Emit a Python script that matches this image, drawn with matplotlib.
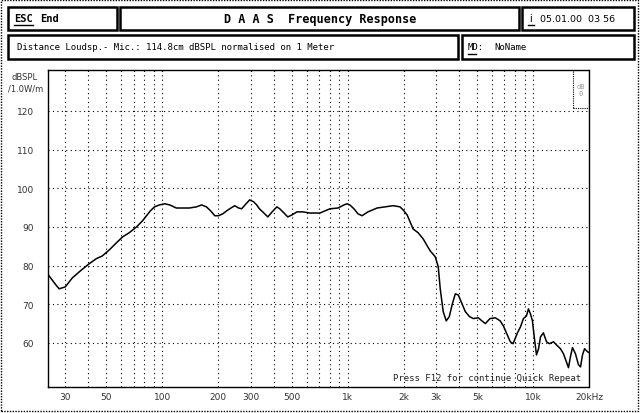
import matplotlib.pyplot as plt
from matplotlib.patches import Rectangle
from matplotlib.lines import Line2D

freq_hz = [24.3, 25.2, 26.7, 27.8, 30, 32.7, 36.3, 40.4, 44.1, 47.5, 51.9, 56.6,
           61, 66.3, 72.6, 78.3, 82.2, 86.4, 90.8, 96.6, 103, 109.7, 119, 131,
           140, 153, 163, 173, 182, 192, 201, 212, 223, 231, 246, 258, 268, 283,
           296, 311, 323, 334, 348, 371, 391, 415, 430, 447, 475, 500, 532, 573,
           625, 708, 802, 886, 955, 991, 1027, 1080, 1136, 1194, 1285, 1440,
           1590, 1757, 1914, 1991, 2091, 2170, 2250, 2397, 2553, 2683, 2786,
           2964, 3077, 3154, 3273, 3398, 3529, 3665, 3803, 3946, 4095, 4305,
           4540, 4760, 5061, 5293, 5523, 5850, 6255, 6640, 6909, 7170, 7530,
           7790, 8226, 8550, 8860, 9200, 9430, 9670, 9909, 10160, 10420, 10690,
           10960, 11356, 11800, 12250, 12865, 13350, 14031, 14562, 15110, 15500,
           15880, 16290, 16900, 17540, 18000, 18450, 18930, 19650, 20000]
spl_db = [77.6, 76.6, 75.0, 74.0, 74.5, 76.8, 78.7, 80.5, 81.8, 82.5, 84.1, 85.9,
          87.4, 88.5, 90.0, 91.6, 92.9, 94.2, 95.2, 95.7, 96.0, 95.7, 94.9, 94.9,
          94.9, 95.2, 95.7, 95.2, 94.2, 92.9, 92.9, 93.4, 94.2, 94.7, 95.5, 94.9,
          94.7, 96.0, 97.0, 96.5, 95.7, 94.7, 93.9, 92.6, 93.9, 95.2, 94.7, 93.9,
          92.6, 93.1, 93.9, 93.9, 93.6, 93.6, 94.7, 94.9, 95.7, 96.0, 95.7, 94.7,
          93.4, 92.9, 93.9, 94.9, 95.2, 95.5, 95.2, 94.4, 93.1, 91.3, 89.5, 88.5,
          86.9, 85.1, 83.8, 82.3, 79.7, 74.0, 68.1, 65.7, 66.8, 70.1, 72.7, 72.4,
          70.6, 68.1, 66.8, 66.3, 66.5, 65.7, 65.0, 66.3, 66.5, 65.7, 64.4, 62.6,
          60.3, 59.8, 62.6, 64.2, 66.3, 67.0, 68.8, 67.5, 65.7, 61.1, 56.9, 58.5,
          61.6, 62.6, 60.3, 59.8, 60.3, 59.5, 58.5, 57.2, 55.1, 53.6, 56.4, 58.8,
          57.2, 54.4, 53.8, 56.9, 58.5, 57.7, 57.5]

x_grid = [30, 40, 50, 60, 70, 80, 90, 100, 200, 300, 400, 500, 600, 700, 800,
          900, 1000, 2000, 3000, 4000, 5000, 6000, 7000, 8000, 9000, 10000, 20000]
x_ticks = [30, 50, 100, 200, 300, 500, 1000, 2000, 3000, 5000, 10000, 20000]
x_labels = ['30', '50', '100', '200', '300', '500', '1k', '2k', '3k', '5k', '10k', '20kHz']
y_ticks = [60, 70, 80, 90, 100, 110, 120]

W, H = 640, 414
fig = plt.figure(figsize=(6.4, 4.14), dpi=100)
fig.patch.set_facecolor('white')


def px_box(x0, y0, x1, y1, **kw):
    fig.add_artist(Rectangle((x0 / W, 1 - y1 / H), (x1 - x0) / W, (y1 - y0) / H,
                             transform=fig.transFigure, fill=False, **kw))


def px_text(x, y, s, **kw):
    fig.text(x / W, 1 - y / H, s, va='center', **kw)


def px_line(x0, x1, y, **kw):
    fig.add_artist(Line2D([x0 / W, x1 / W], [1 - y / H, 1 - y / H],
                          transform=fig.transFigure, **kw))


# outer frame of the screen
px_box(1, 1, 638, 412, ec='black', lw=1.0, ls=(0, (1, 1)))

# header boxes
for b in [(8, 8, 117, 31), (120, 8, 519, 31), (522, 8, 634, 31),
          (8, 36, 458, 60), (462, 36, 634, 60)]:
    px_box(*b, ec='black', lw=1.8)

mono = 'DejaVu Sans Mono'
px_text(14, 19, 'ESC', family=mono, weight='bold', size=7.5)
px_line(14, 33, 26, color='black', lw=1)
px_text(40, 19, 'End', family=mono, weight='bold', size=7.5)
px_text(320, 20, 'D A A S  Frequency Response', family=mono, weight='bold',
        size=8.5, ha='center')
px_text(529, 19, 'i', family='DejaVu Sans', size=7)
px_line(528, 534, 26, color='black', lw=1)
px_text(540, 19, '05.01.00  03 56', family='DejaVu Sans', size=6.8)
px_text(17, 48, 'Distance Loudsp.- Mic.: 114.8cm dBSPL normalised on 1 Meter',
        family=mono, size=6.5)
px_text(468, 48, 'MD:', family=mono, size=6.5)
px_line(468, 476, 55, color='black', lw=1)
px_text(494, 48, 'NoName', family=mono, size=6.5)

# axis unit label
px_text(12, 78, 'dBSPL', family='DejaVu Sans', size=6, color='#333333')
px_text(8, 89, '/1.0W/m', family='DejaVu Sans', size=6, color='#333333')

# plot area
ax = fig.add_axes([48 / W, 1 - 388 / H, (589 - 48) / W, (388 - 71) / H])
ax.plot(freq_hz, spl_db, color='black', lw=1.1)
ax.set_xscale('log')
ax.set_xlim(24.2, 20000)
ax.set_ylim(48.6, 130.6)

ax.set_xticks(x_grid, minor=False)
ax.set_xticklabels(['' for _ in x_grid])
ax.set_xticks([], minor=True)
ax.set_yticks(y_ticks)
ax.set_yticklabels([str(v) for v in y_ticks])
ax.grid(True, which='major', color='black', ls=(0, (1, 3)), lw=0.8)
ax.tick_params(length=0, labelsize=6.5, labelcolor='#333333', pad=10)
for lbl in ax.get_yticklabels():
    lbl.set_family('DejaVu Sans')

for f, s in zip(x_ticks, x_labels):
    ax.text(f, -0.03, s, transform=ax.get_xaxis_transform(), ha='center',
            va='center', size=6.5, color='#333333')

for sp in ax.spines.values():
    sp.set_linestyle((0, (1, 1)))
    sp.set_linewidth(1.0)

# status line inside the plot
ax.text(0.985, 0.015, 'Press F12 for continue Quick Repeat', transform=ax.transAxes,
        ha='right', va='bottom', family=mono, size=6.5, color='#222222')

# small level indicator box top right
ax.add_patch(Rectangle((0.97, 0.88), 0.03, 0.12, transform=ax.transAxes,
                       fill=True, fc='white', ec='black', lw=0.8, ls=(0, (1, 1))))
ax.text(0.985, 0.94, 'dB\n0', transform=ax.transAxes, ha='center', va='center',
        size=5, color='#999999', family=mono)

fig.savefig('out.png', dpi=100)
